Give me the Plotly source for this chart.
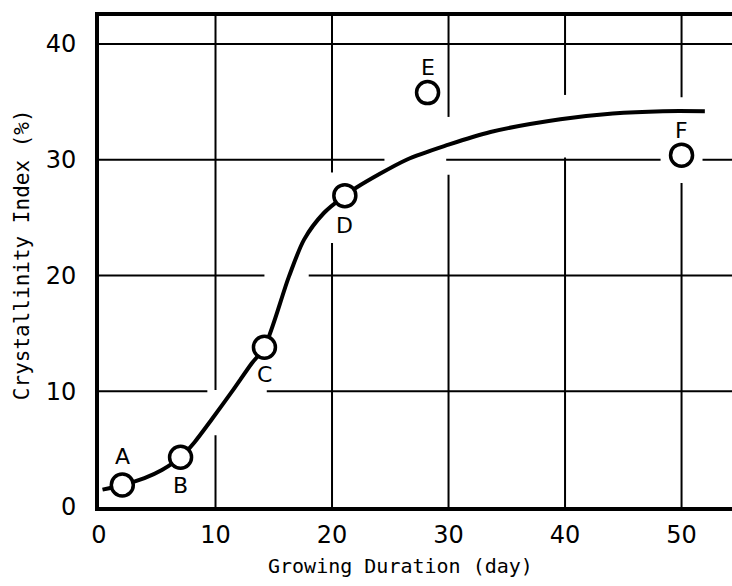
import plotly.graph_objects as go

# ---- data ----
point_labels = ["A", "B", "C", "D", "E", "F"]
point_days = [2.0, 7.0, 14.2, 21.1, 28.2, 50.0]
point_index = [1.9, 4.3, 13.8, 26.9, 35.8, 30.4]

curve_days = [0.3, 2.0, 3.9, 5.4, 7.0, 8.2, 9.7, 11.5, 13.1, 14.2, 16.3, 17.6,
              19.3, 21.1, 22.1, 26.4, 30.0, 33.6, 39.6, 44.1, 48.4, 52.0]
curve_index = [1.5, 1.9, 2.5, 3.2, 4.3, 5.6, 7.6, 10.1, 12.4, 13.8, 19.9, 23.1,
               25.4, 26.9, 27.6, 30.0, 31.3, 32.4, 33.5, 34.0, 34.2, 34.2]

x_ticks = [0, 10, 20, 30, 40, 50]
y_ticks = [0, 10, 20, 30, 40]

x_title = "Growing Duration (day)"
y_title = "Crystallinity Index (%)"

# ---- layout / style settings ----
X_MAX = 54.33
Y_MAX = 42.42
FONT = "DejaVu Sans"
TITLE_FONT = "DejaVu Sans Mono"
label_shift = [29, -28, -27, -30, 25, 25]   # pixel offsets of point labels

# grid segments with the gaps seen in the drawing
v_grid = {10: [(0, 6.2), (10.1, Y_MAX)],
          20: [(0, 22.8), (28.9, Y_MAX)],
          30: [(0, 28.7), (33.7, Y_MAX)],
          40: [(0, 30.2), (35.6, Y_MAX)],
          50: [(0, 28.0), (35.4, Y_MAX)]}
h_grid = {10: [(0, 9.3), (14.4, X_MAX)],
          20: [(0, 14.2), (18.0, X_MAX)],
          30: [(0, 24.5), (29.8, 48.2), (51.8, X_MAX)],
          40: [(0, X_MAX)]}

shapes = []
for xv, segs in v_grid.items():
    for a, b in segs:
        shapes.append(dict(type="line", xref="x", yref="y", x0=xv, x1=xv, y0=a, y1=b,
                           line=dict(color="black", width=2), layer="below"))
for yv, segs in h_grid.items():
    for a, b in segs:
        shapes.append(dict(type="line", xref="x", yref="y", x0=a, x1=b, y0=yv, y1=yv,
                           line=dict(color="black", width=2), layer="below"))

fig = go.Figure()
fig.add_trace(go.Scatter(x=curve_days, y=curve_index, mode="lines",
                         line=dict(color="black", width=4, shape="spline", smoothing=0.8),
                         hoverinfo="skip", showlegend=False))
fig.add_trace(go.Scatter(x=point_days, y=point_index, mode="markers",
                         marker=dict(symbol="circle", size=22, color="white",
                                     line=dict(color="black", width=3.5)),
                         showlegend=False))

annotations = []
for lab, xv, yv, sh in zip(point_labels, point_days, point_index, label_shift):
    annotations.append(dict(x=xv, y=yv, xref="x", yref="y", text=lab, showarrow=False,
                            yshift=sh, font=dict(family=FONT, size=22, color="black")))
# axis titles
annotations.append(dict(x=0.477, y=-0.12, xref="paper", yref="paper", text=x_title,
                        showarrow=False, xanchor="center", yanchor="middle",
                        font=dict(family=TITLE_FONT, size=20, color="black")))
annotations.append(dict(x=-0.1216, y=0.513, xref="paper", yref="paper", text=y_title,
                        showarrow=False, xanchor="center", yanchor="middle", textangle=-90,
                        font=dict(family=TITLE_FONT, size=21, color="black")))

fig.update_layout(
    width=732, height=586,
    margin=dict(l=99, r=0, t=16, b=79),
    paper_bgcolor="white", plot_bgcolor="white",
    shapes=shapes, annotations=annotations,
    font=dict(family=FONT, color="black"),
    xaxis=dict(range=[0, X_MAX], tickmode="array", tickvals=x_ticks,
               ticktext=[str(t) for t in x_ticks], showgrid=False, zeroline=False,
               showline=True, linecolor="black", linewidth=4, mirror=True,
               ticks="", ticklabelstandoff=3, automargin=False,
               tickfont=dict(family=FONT, size=24, color="black")),
    yaxis=dict(range=[0, Y_MAX], tickmode="array", tickvals=y_ticks,
               ticktext=[str(t) for t in y_ticks], showgrid=False, zeroline=False,
               showline=True, linecolor="black", linewidth=4,
               ticks="", ticklabelstandoff=14, automargin=False,
               tickfont=dict(family=FONT, size=24, color="black")),
)

fig.write_html("out.html", config={"displayModeBar": False},
               post_script="document.body.style.margin='0';document.body.style.overflow='hidden';")
